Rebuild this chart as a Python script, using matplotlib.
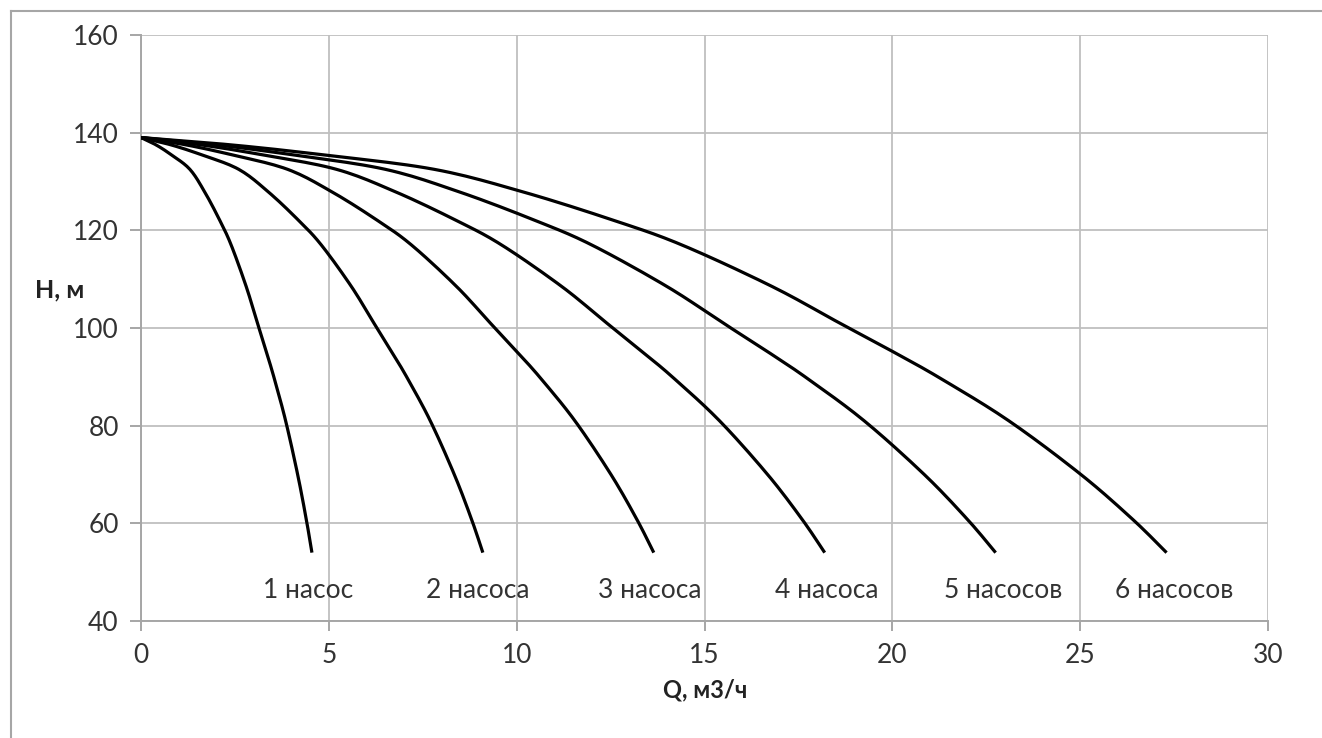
import numpy as np
import matplotlib.pyplot as plt
from matplotlib.lines import Line2D

# head values (shared by all curves), m
head = [139, 137.5, 135.5, 132.5, 127.8, 122.0, 117.0, 108.5, 101.0, 94.8, 89.6, 81.0, 70.0, 60.8, 54]

# flow for 1..6 pumps in parallel, m3/h
q1 = [0, 0.4, 0.8, 1.3, 1.7, 2.1, 2.4, 2.8, 3.1, 3.35, 3.55, 3.85, 4.17, 4.4, 4.55]
q2 = [0, 0.8, 1.6, 2.6, 3.4, 4.2, 4.8, 5.6, 6.2, 6.7, 7.1, 7.7, 8.34, 8.8, 9.1]
q3 = [0, 1.2, 2.4, 3.9, 5.1, 6.3, 7.2, 8.4, 9.3, 10.05, 10.65, 11.55, 12.51, 13.2, 13.65]
q4 = [0, 1.6, 3.2, 5.2, 6.8, 8.4, 9.6, 11.2, 12.4, 13.4, 14.2, 15.4, 16.68, 17.6, 18.2]
q5 = [0, 2.0, 4.0, 6.5, 8.5, 10.5, 12.0, 14.0, 15.5, 16.75, 17.75, 19.25, 20.85, 22.0, 22.75]
q6 = [0, 2.4, 4.8, 7.8, 10.2, 12.6, 14.4, 16.8, 18.6, 20.1, 21.3, 23.1, 25.02, 26.4, 27.3]

labels = ["1 насос", "2 насоса", "3 насоса", "4 насоса", "5 насосов", "6 насосов"]
label_q = [4.45, 8.97, 13.55, 18.26, 22.94, 27.5]
label_h = 46.3

x_ticks = [0, 5, 10, 15, 20, 25, 30]
y_ticks = [40, 60, 80, 100, 120, 140, 160]


def smooth(xs, ys, n=12):
    # Catmull-Rom drawing of the line, like a "smoothed line" in a spreadsheet
    p = np.column_stack([xs, ys]).astype(float)
    p = np.vstack([p[0], p, p[-1]])
    out = []
    t = np.linspace(0, 1, n, endpoint=False)[:, None]
    for i in range(1, len(p) - 2):
        p0, p1, p2, p3 = p[i - 1], p[i], p[i + 1], p[i + 2]
        seg = 0.5 * ((2 * p1) + (-p0 + p2) * t + (2 * p0 - 5 * p1 + 4 * p2 - p3) * t ** 2
                     + (-p0 + 3 * p1 - 3 * p2 + p3) * t ** 3)
        out.append(seg)
    out.append(p[-2][None, :])
    out = np.vstack(out)
    return out[:, 0], out[:, 1]


plt.rcParams['font.family'] = ['Lato', 'Noto Sans', 'DejaVu Sans']

fig = plt.figure(figsize=(13.22, 7.38), dpi=100)
ax = fig.add_axes([141 / 1322, 1 - 621 / 738, (1268 - 141) / 1322, (621 - 35) / 738])

grid_col = "#a6a6a6"
for q in [q1, q2, q3, q4, q5, q6]:
    sx, sy = smooth(q, head)
    ax.plot(sx, sy, color="black", lw=2.3, solid_joinstyle="round", solid_capstyle="butt", zorder=3)

for txt, xq in zip(labels, label_q):
    ax.text(xq, label_h, txt, ha="center", va="center", fontsize=19, color="#333333")

ax.set_xlim(0, 30)
ax.set_ylim(40, 160)
ax.set_xticks(x_ticks)
ax.set_yticks(y_ticks)
ax.grid(True, color="#bfbfbf", lw=1.3)
ax.set_axisbelow(True)
for side in ["top", "right"]:
    ax.spines[side].set_visible(False)
for side in ["left", "bottom"]:
    ax.spines[side].set_color(grid_col)
    ax.spines[side].set_linewidth(1.4)
ax.tick_params(axis="both", colors=grid_col, width=1.4, labelcolor="#333333", labelsize=19)
ax.tick_params(axis="y", length=8, pad=8)
ax.tick_params(axis="x", length=7, pad=9)

fig.text(60 / 1322, 1 - 290 / 738, "Н, м", fontsize=18, fontweight="bold", ha="center", va="center", color="#222222")
fig.text(705 / 1322, 1 - 690 / 738, "Q, м3/ч", fontsize=17, fontweight="bold", ha="center", va="center", color="#222222")

# outer frame (top and left edges visible)
fig.add_artist(Line2D([11 / 1322, 1], [1 - 11 / 738, 1 - 11 / 738], transform=fig.transFigure, color="#a6a6a6", lw=1.5))
fig.add_artist(Line2D([11 / 1322, 11 / 1322], [0, 1 - 11 / 738], transform=fig.transFigure, color="#a6a6a6", lw=1.5))

fig.savefig("out.png", dpi=100)
